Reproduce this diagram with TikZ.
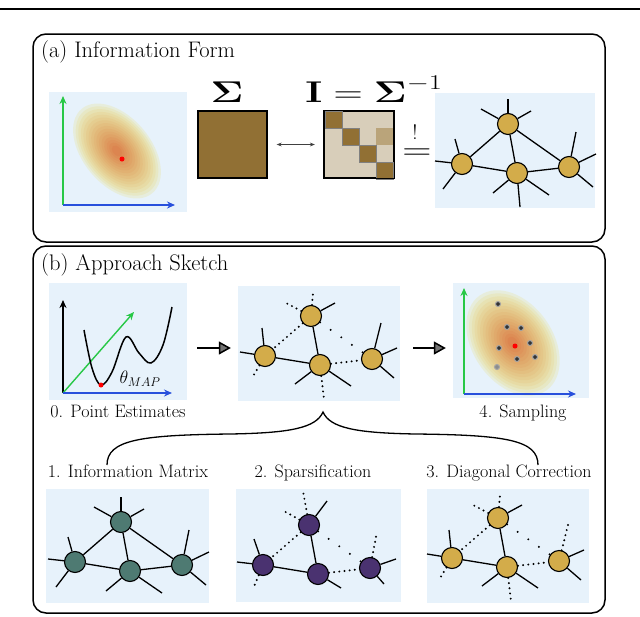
\RequirePackage{fix-cm}
\documentclass[tikz,border=0pt]{standalone}
\usepackage{amsmath}
\usetikzlibrary{arrows.meta}

\definecolor{panelbg}{RGB}{231,242,251}
\definecolor{nodegold}{RGB}{211,172,74}
\definecolor{nodeteal}{RGB}{78,122,114}
\definecolor{nodepurple}{RGB}{74,50,112}
\definecolor{sigmabrown}{RGB}{145,112,52}
\definecolor{infobeige}{RGB}{216,206,186}
\definecolor{infotan}{RGB}{186,164,122}
\definecolor{axisgreen}{RGB}{40,200,70}
\definecolor{axisblue}{RGB}{40,80,220}
\definecolor{gaussyellow}{RGB}{234,228,150}
\definecolor{gaussred}{RGB}{218,105,60}

\tikzset{
  panel/.style={fill=panelbg, draw=none, inner sep=0pt},
  frame/.style={draw, line width=1.5pt, rounded corners=13pt},
  netnode/.style={circle, draw, line width=1.1pt, minimum size=21pt, inner sep=0pt},
  edge/.style={line width=1.3pt},
  dotedge/.style={line width=2.2pt, dash pattern=on 0pt off 5.2pt, line cap=round},
  sparseedge/.style={line width=2.2pt, dash pattern=on 0pt off 13pt, line cap=round},
  axis/.style={line width=1.4pt, -{Stealth[open,length=8pt,width=7pt]}},
  flow/.style={line width=1.5pt, -{Triangle[length=12pt,width=13pt,fill=black!55]}},
  matbox/.style={draw, line width=1.2pt, minimum width=69pt, minimum height=67pt, inner sep=0pt},
  lbl/.style={font=\fontsize{18}{21}\selectfont, inner sep=0pt, anchor=base},
  title/.style={font=\fontsize{22.5}{26}\selectfont, inner sep=0pt, anchor=base west},
  bigmath/.style={font=\fontsize{30}{36}\selectfont, inner sep=0pt, anchor=base},
  sample/.style={circle, draw=black!35, fill=black!80, minimum size=5pt, inner sep=0pt, line width=1pt},
}

% graph nodes: prefix, origin x, origin y, colour
\newcommand{\netnodes}[4]{%
  \node[netnode, fill=#4] (#1t) at (#2+73,#3+31) {};
  \node[netnode, fill=#4] (#1l) at (#2+27,#3+71) {};
  \node[netnode, fill=#4] (#1m) at (#2+82,#3+80) {};
  \node[netnode, fill=#4] (#1r) at (#2+134,#3+74) {};
}
% gaussian blob: centre x, centre y, radii, angle
\newcommand{\gaussblob}[5]{%
  \begin{scope}[shift={(#1,#2)}, rotate=#5]
    \foreach \i [evaluate=\i as \p using int(\i*6)] in {0,...,15}
      \fill[gaussred!\p!gaussyellow, opacity=0.3] (0,0) ellipse [x radius={#3*(1-\i/17)}, y radius={#4*(1-\i/17)}];
  \end{scope}
}

\begin{document}
\begin{tikzpicture}[x=1pt,y=-1pt]
\useasboundingbox (0,0) rectangle (640,616);

\draw[line width=2pt] (0,9) -- (640,9);

% (a) information form
\draw[frame] (33,34) rectangle (605,242);
\node[title] (titleA) at (41,57) {(a) Information Form};

\fill[panel] (49,92) rectangle (187,212);
\gaussblob{117}{151}{55}{34}{-50}
\fill[red] (122,159) circle (2.5);
\coordinate (ga0) at (63,205);
\coordinate (gay) at (63,96);
\coordinate (gax) at (175,205);
\draw[axis, axisgreen] (ga0) -- (gay);
\draw[axis, axisblue] (ga0) -- (gax);

\node[bigmath] (sigma) at (227,102) {\scalebox{1.35}[1]{$\boldsymbol{\Sigma}$}};
\node[matbox, fill=sigmabrown] (sigmat) at (232.5,144.5) {};
\node[matbox, fill=infobeige] (infomat) at (359,144.5) {};
\foreach \k in {0,...,3}
  \fill[sigmabrown, draw=black!50, line width=0.4pt] (325+17*\k,111+17*\k) rectangle +(17,17);
\fill[infotan] (376,128) rectangle +(17,17);
\draw[line width=1.2pt] (infomat.north west) rectangle (infomat.south east);
\draw[line width=0.7pt, black!75, {Stealth[length=5pt]}-{Stealth[length=5pt]}, shorten <=9pt, shorten >=9pt] (sigmat) -- (infomat);
\node[bigmath] (infoeq) at (374,102) {\scalebox{1.35}[1]{$\mathbf{I}=\boldsymbol{\Sigma}^{-1}$}};
\node[bigmath] (eqsign) at (417,159) {\scalebox{1.35}[1]{$=$}};
\node[font=\fontsize{21}{24}\selectfont, inner sep=0pt, anchor=base] (bang) at (415,139) {!};

\fill[panel] (435,93) rectangle (595,208);
\netnodes{a}{435}{93}{nodegold}
\draw[edge] (at) -- (al) (at) -- (am) (at) -- (ar) (al) -- (am) (am) -- (ar);
\foreach \dx/\dy in {0/-25,-27/-15,23/-13} \draw[edge] (at) -- +(\dx,\dy);
\foreach \dx/\dy in {-7/-25,-27/-3,-19/25} \draw[edge] (al) -- +(\dx,\dy);
\foreach \dx/\dy in {-24/20,3/34,32/22} \draw[edge] (am) -- +(\dx,\dy);
\foreach \dx/\dy in {7/-35,27/-13,24/20} \draw[edge] (ar) -- +(\dx,\dy);

% (b) approach sketch
\draw[frame] (33,246) rectangle (605,613);
\node[title] (titleB) at (41,270) {(b) Approach Sketch};

% 0. point estimates
\node[panel, minimum width=138pt, minimum height=117pt] (pePanel) at (118,341.5) {};
\coordinate (pe0) at (63,393);
\coordinate (pey) at (63,300);
\coordinate (pex) at (172,393);
\coordinate (ped) at (134,312);
\draw[axis, black] (pe0) -- (pey);
\draw[axis, axisgreen] (pe0) -- (ped);
\draw[axis, axisblue] (pe0) -- (pex);
\draw[line width=1.5pt] plot[smooth, tension=0.6] coordinates {(84,330) (92,368) (101,385) (112,372) (126,337) (139,353) (151,363) (163,345) (172,307)};
\fill[red] (101,385) circle (2.5);
\node[lbl, anchor=center] (thetamap) at (140,379) {$\theta_{MAP}$};
\node[lbl] (lblPE) at (118,417) {0. Point Estimates};

% sparse graph
\node[panel, minimum width=162pt, minimum height=115pt] (netPanel) at (319,343.5) {};
\netnodes{b}{238}{285}{nodegold}
\draw[edge] (bt) -- (bm) (bl) -- (bm);
\draw[dotedge] (bt) -- (bl) (bm) -- (br);
\draw[sparseedge] (bt) -- (br);
\draw[dotedge] (bt) -- +(2,-23) (bt) -- +(-25,-13) (bl) -- +(-13,22) (bm) -- +(4,34);
\draw[edge] (bt) -- +(24,-13) (bl) -- +(-3,-28) (bl) -- +(-25,-4);
\draw[edge] (bm) -- +(-25,19) (bm) -- +(31,21);
\draw[edge] (br) -- +(9,-36) (br) -- +(25,-11) (br) -- +(22,19);

% 4. sampling
\node[panel, minimum width=136pt, minimum height=115pt] (sampPanel) at (521,340.5) {};
\gaussblob{513}{343}{58}{40}{-55}
\coordinate (sp0) at (464,394);
\coordinate (spy) at (464,288);
\coordinate (spx) at (576,394);
\draw[axis, axisgreen] (sp0) -- (spy);
\draw[axis, axisblue] (sp0) -- (spx);
\foreach \sx/\sy in {498/304,507/327,521/328,530/343,499/348,517/359,535/357}
  \node[sample] at (\sx,\sy) {};
\node[sample, fill=black!45] at (497,367) {};
\fill[red] (515,346) circle (2.5);
\node[lbl] (lblSamp) at (523,417) {4. Sampling};

\draw[flow, shorten <=10pt, shorten >=7pt] (pePanel.east |- 0,348) -- (netPanel.west |- 0,348);
\draw[flow, shorten <=13pt, shorten >=7pt] (netPanel.east |- 0,348) -- (sampPanel.west |- 0,348);

% brace
\draw[line width=1.3pt] (107,465) .. controls (107,440) and (140,435) .. (230,434)
  .. controls (290,433) and (316,428) .. (323,412)
  .. controls (330,428) and (356,433) .. (416,434)
  .. controls (506,435) and (538,440) .. (538,465);

\node[lbl] (lblInfo) at (128,477) {1. Information Matrix};
\node[lbl] (lblSparse) at (313,477) {2. Sparsification};
\node[lbl] (lblDiag) at (509,477) {3. Diagonal Correction};

% 1. information matrix
\fill[panel] (46,489) rectangle (209,603);
\netnodes{c}{48}{491}{nodeteal}
\draw[edge] (ct) -- (cl) (ct) -- (cm) (ct) -- (cr) (cl) -- (cm) (cm) -- (cr);
\foreach \dx/\dy in {0/-25,-27/-15,23/-13} \draw[edge] (ct) -- +(\dx,\dy);
\foreach \dx/\dy in {-7/-25,-27/-3,-19/25} \draw[edge] (cl) -- +(\dx,\dy);
\foreach \dx/\dy in {-24/20,32/22} \draw[edge] (cm) -- +(\dx,\dy);
\foreach \dx/\dy in {7/-35,27/-13,24/20} \draw[edge] (cr) -- +(\dx,\dy);

% 2. sparsification
\fill[panel] (236,489) rectangle (401,602);
\netnodes{d}{236}{494}{nodepurple}
\draw[edge] (dt) -- (dm) (dl) -- (dm);
\draw[dotedge] (dt) -- (dl) (dm) -- (dr);
\draw[sparseedge] (dt) -- (dr);
\draw[dotedge] (dt) -- +(-6,-34) (dt) -- +(-27,-15) (dl) -- +(-10,24) (dr) -- +(7,-36);
\draw[edge] (dt) -- +(18,-24) (dl) -- +(-9,-26) (dl) -- +(-26,-3);
\draw[edge] (dm) -- +(23,14) (dr) -- +(26,-9) (dr) -- +(14,16);

% 3. diagonal correction
\fill[panel] (427,489) rectangle (589,603);
\netnodes{e}{425}{487}{nodegold}
\draw[edge] (et) -- (em) (el) -- (em);
\draw[dotedge] (et) -- (el) (em) -- (er);
\draw[sparseedge] (et) -- (er);
\draw[dotedge] (et) -- +(2,-23) (et) -- +(-25,-13) (el) -- +(-13,22) (em) -- +(4,34) (er) -- +(9,-36);
\draw[edge] (et) -- +(24,-13) (el) -- +(-3,-28) (el) -- +(-25,-4);
\draw[edge] (em) -- +(-25,19) (em) -- +(31,21);
\draw[edge] (er) -- +(25,-11) (er) -- +(22,19);

\end{tikzpicture}
\end{document}
